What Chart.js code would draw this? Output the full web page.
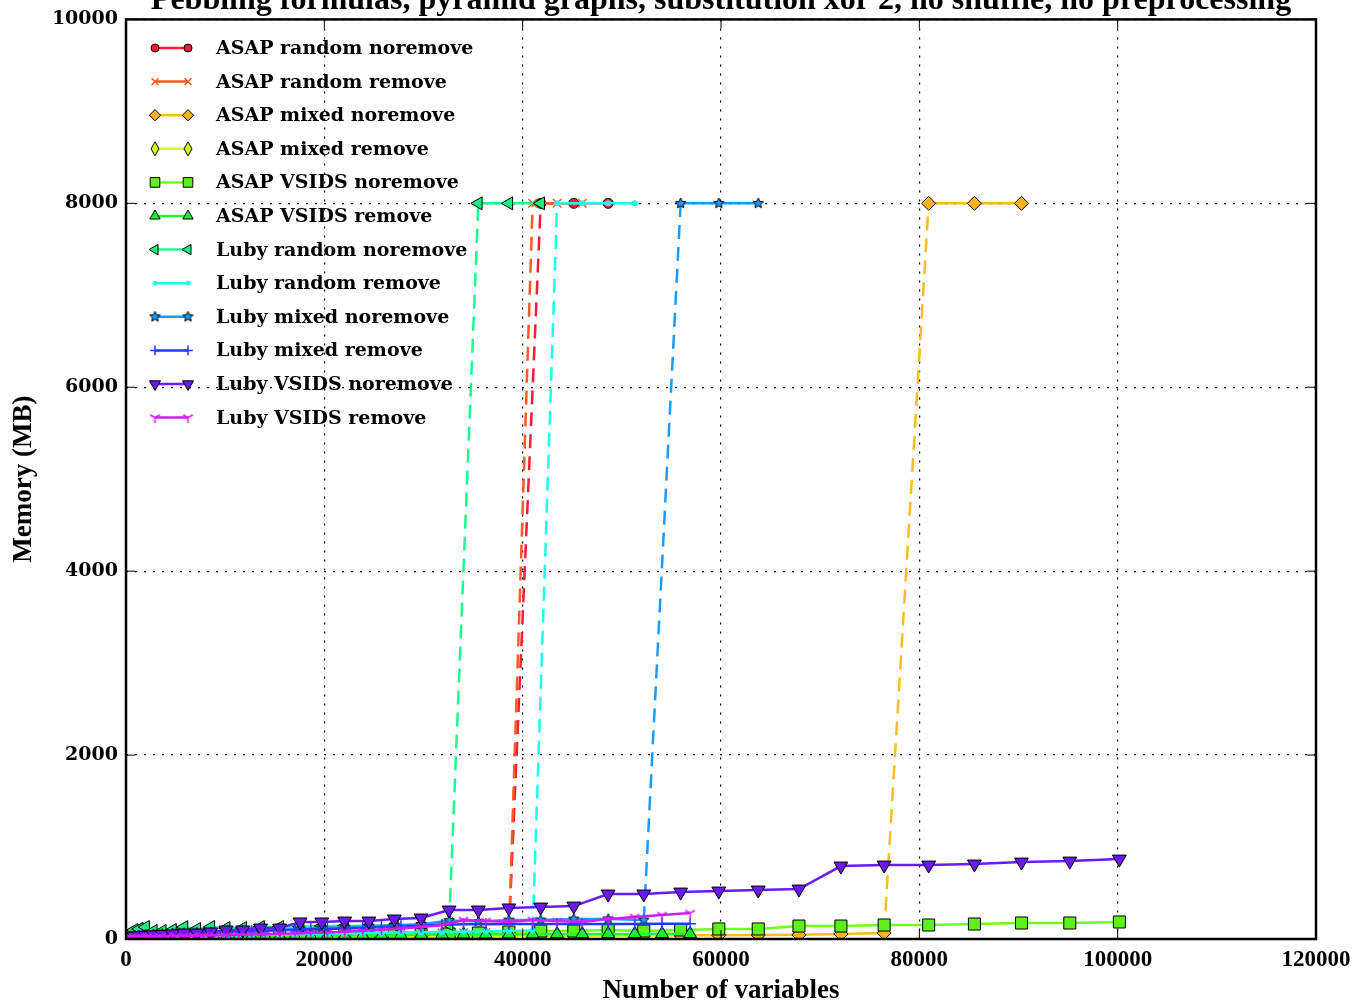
<!DOCTYPE html>
<html>
<head>
<meta charset="utf-8">
<title>Pebbling formulas memory</title>
<script src="https://cdn.jsdelivr.net/npm/chart.js@4.4.1/dist/chart.umd.min.js"></script>
<style>
  html, body { margin: 0; padding: 0; background: #fff; }
  canvas { display: block; }
</style>
</head>
<body>
<canvas id="memChart" width="1361" height="1003"></canvas>
<script>
/* ---------- data ---------- */
const chartTitle = "Pebbling formulas, pyramid graphs, substitution xor 2, no shuffle, no preprocessing";
const xAxisTitle = "Number of variables";
const yAxisTitle = "Memory (MB)";
const xTickValues = [0, 20000, 40000, 60000, 80000, 100000, 120000];
const yTickValues = [0, 2000, 4000, 6000, 8000, 10000];

// instance sizes (number of variables) for the "noremove" and "remove" runs
const xVarsNoremove = [20, 156, 420, 812, 1332, 1980, 2756, 3660, 4692, 5852,
  7140, 8556, 10100, 11772, 13572, 15500, 17556, 19740, 22052, 24492,
  27060, 29756, 32580, 35532, 38612, 41820, 45156, 48620, 52212, 55932,
  59780, 63756, 67860, 72092, 76452, 80940, 85556, 90300, 95172, 100172];
const xVarsRemove = [20, 110, 272, 506, 812, 1190, 1640, 2162, 2756, 3422,
  4160, 4970, 5852, 6806, 7832, 8930, 10100, 11342, 12656, 14042,
  15500, 17030, 18632, 20306, 22052, 23870, 25760, 27722, 29756, 31862,
  34040, 36290, 38612, 41006, 43472, 46010, 48620, 51302, 54056, 56882];

// memory in MB (8000 = ran out of memory)
const asapRandomNoremove = [10, 12, 14, 16, 18, 20, 22, 25, 28, 30,
  33, 36, 40, 43, 46, 50, 53, 56, 60, 63,
  66, 70, 72, 75, 78, 8000, 8000, 8000];
const asapRandomRemove = [8, 10, 12, 14, 16, 18, 20, 22, 24, 26,
  28, 30, 32, 34, 36, 38, 40, 42, 44, 46,
  48, 50, 52, 54, 56, 58, 60, 62, 64, 66,
  68, 70, 72, 8000, 8000, 8000];
const asapMixedNoremove = [5, 6, 7, 8, 9, 10, 11, 12, 13, 14,
  15, 16, 17, 18, 19, 20, 21, 22, 23, 24,
  25, 26, 28, 30, 32, 34, 36, 38, 40, 40,
  40, 43, 45, 54, 65, 8000, 8000, 8000];
const asapMixedRemove = [4, 5, 6, 7, 8, 9, 10, 11, 12, 13,
  14, 15, 16, 17, 18, 19, 20, 21, 22, 23,
  24, 25, 26, 27, 28, 29, 30, 31, 32, 33,
  34, 35, 36, 37, 38, 39, 40, 42, 44, 45];
const asapVsidsNoremove = [5, 6, 7, 8, 9, 10, 12, 14, 16, 18,
  20, 22, 24, 26, 28, 30, 33, 36, 40, 43,
  46, 50, 55, 65, 76, 87, 87, 98, 87, 98,
  109, 109, 141, 141, 152, 152, 163, 174, 174, 185];
const asapVsidsRemove = [5, 6, 7, 8, 9, 10, 11, 12, 13, 14,
  15, 16, 17, 18, 19, 20, 22, 24, 26, 28,
  30, 32, 34, 36, 38, 40, 42, 44, 46, 48,
  50, 50, 52, 52, 54, 54, 55, 55, 56, 56];
const lubyRandomNoremove = [30, 50, 70, 98, 110, 130, 87, 87, 98, 130,
  109, 130, 119, 119, 130, 130, 135, 141, 141, 145,
  150, 152, 160, 8000, 8000, 8000];
const lubyRandomRemove = [10, 12, 14, 16, 18, 20, 22, 24, 26, 28,
  30, 32, 34, 36, 38, 40, 42, 44, 46, 48,
  50, 52, 55, 58, 61, 64, 67, 70, 73, 76,
  80, 84, 88, 92, 8000, 8000, 8000, 8000];
const lubyMixedNoremove = [20, 25, 30, 35, 40, 45, 50, 55, 60, 65,
  70, 75, 80, 85, 90, 100, 110, 120, 130, 140,
  150, 160, 200, 190, 206, 206, 217, 217, 206, 8000, 8000, 8000];
const lubyMixedRemove = [15, 18, 21, 24, 27, 30, 33, 36, 39, 42,
  45, 50, 55, 60, 65, 70, 75, 80, 85, 90,
  95, 100, 105, 110, 115, 120, 130, 140, 145, 155,
  160, 160, 163, 163, 163, 163, 163, 163, 165, 165];
const lubyVsidsNoremove = [15, 20, 25, 30, 35, 40, 45, 50, 55, 65,
  65, 76, 98, 98, 119, 119, 185, 185, 195, 195,
  217, 228, 315, 315, 337, 347, 358, 489, 489, 510,
  521, 532, 543, 793, 804, 804, 815, 836, 847, 869];
const lubyVsidsRemove = [10, 12, 14, 16, 18, 20, 22, 24, 26, 28,
  30, 32, 34, 36, 38, 40, 42, 45, 48, 52,
  56, 60, 66, 72, 80, 90, 100, 115, 130, 150,
  206, 195, 185, 206, 195, 185, 217, 239, 260, 282];

const memLimit = 8000;

/* ---------- custom markers ---------- */
function starMarker(size, fill) {
    const c = document.createElement("canvas");
    c.width = c.height = size;
    const g = c.getContext("2d");
    const r = size / 2 - 1, ri = r * 0.45;
    g.beginPath();
    for (let k = 0; k < 10; k++) {
        const a = -Math.PI / 2 + k * Math.PI / 5;
        const rr = k % 2 ? ri : r;
        g.lineTo(size / 2 + rr * Math.cos(a), size / 2 + rr * Math.sin(a));
    }
    g.closePath();
    g.fillStyle = fill;
    g.fill();
    g.strokeStyle = "#000";
    g.lineWidth = 1;
    g.stroke();
    return c;
}

function triDownMarker(size, color) {
    const c = document.createElement("canvas");
    c.width = c.height = size;
    const g = c.getContext("2d");
    const m = size / 2, r = size / 2 - 1;
    g.strokeStyle = color;
    g.lineWidth = 1.5;
    g.beginPath();
    g.moveTo(m, m); g.lineTo(m, m + r);
    g.moveTo(m, m); g.lineTo(m - r * 0.87, m - r * 0.5);
    g.moveTo(m, m); g.lineTo(m + r * 0.87, m - r * 0.5);
    g.stroke();
    return c;
}

function thinDiamondMarker(w, h, fill) {
    const c = document.createElement("canvas");
    c.width = w; c.height = h;
    const g = c.getContext("2d");
    g.beginPath();
    g.moveTo(w / 2, 1); g.lineTo(w - 1, h / 2); g.lineTo(w / 2, h - 1); g.lineTo(1, h / 2);
    g.closePath();
    g.fillStyle = fill;
    g.fill();
    g.strokeStyle = "#000";
    g.lineWidth = 1;
    g.stroke();
    return c;
}

/* ---------- datasets ---------- */
function series(label, xs, ys, color, m) {
    return {
        label: label,
        data: ys.map((v, i) => ({ x: xs[i], y: v })),
        borderColor: color,
        backgroundColor: m.fill || color,
        borderWidth: 2.5,
        pointStyle: m.shape,
        pointRadius: m.r,
        pointRotation: m.rot || 0,
        pointBackgroundColor: m.fill || color,
        pointBorderColor: m.edge || color,
        pointBorderWidth: m.bw === undefined ? 1 : m.bw,
        tension: 0,
        fill: false,
        segment: {
            // jump to the memory limit is dashed
            borderDash: c => ((c.p0.parsed.y >= memLimit) !== (c.p1.parsed.y >= memLimit)) ? [14, 8] : undefined
        }
    };
}

const datasets = [
    series("ASAP random noremove", xVarsNoremove, asapRandomNoremove, "#ff1a3a", { shape: "circle", r: 5, fill: "#ff1a3a", edge: "#000" }),
    series("ASAP random remove", xVarsRemove, asapRandomRemove, "#ff5a1f", { shape: "crossRot", r: 6, bw: 1.5 }),
    series("ASAP mixed noremove", xVarsNoremove, asapMixedNoremove, "#ffbb1f", { shape: "rectRot", r: 7, fill: "#ffb41f", edge: "#000" }),
    series("ASAP mixed remove", xVarsRemove, asapMixedRemove, "#d4ff1a", { shape: thinDiamondMarker(10, 16, "#ccff1a"), r: 7 }),
    series("ASAP VSIDS noremove", xVarsNoremove, asapVsidsNoremove, "#70ff1a", { shape: "rect", r: 8.5, fill: "#5ef01a", edge: "#000" }),
    series("ASAP VSIDS remove", xVarsRemove, asapVsidsRemove, "#1aff2e", { shape: "triangle", r: 7.5, fill: "#1aee2e", edge: "#000" }),
    series("Luby random noremove", xVarsNoremove, lubyRandomNoremove, "#1aff8c", { shape: "triangle", rot: -90, r: 7.5, fill: "#1aee80", edge: "#000" }),
    series("Luby random remove", xVarsRemove, lubyRandomRemove, "#1affee", { shape: "circle", r: 3, bw: 0 }),
    series("Luby mixed noremove", xVarsNoremove, lubyMixedNoremove, "#1a9cff", { shape: starMarker(13, "#1a9cff"), r: 7 }),
    series("Luby mixed remove", xVarsRemove, lubyMixedRemove, "#1a3dff", { shape: "cross", r: 6, bw: 1.5 }),
    series("Luby VSIDS noremove", xVarsNoremove, lubyVsidsNoremove, "#6a1aff", { shape: "triangle", rot: 180, r: 8, fill: "#6a1aee", edge: "#000" }),
    series("Luby VSIDS remove", xVarsRemove, lubyVsidsRemove, "#d61aff", { shape: triDownMarker(13, "#d61aff"), r: 7 })
];
// later series are drawn on top, like the original plot
datasets.forEach((ds, i) => { ds.order = datasets.length - i; });

/* ---------- decorations: frame, inner ticks, legend, titles ---------- */
const decorations = {
    id: "decorations",
    beforeDraw(chart) {
        const ctx = chart.ctx;
        ctx.save();
        ctx.fillStyle = "#fff";
        ctx.fillRect(0, 0, chart.width, chart.height);
        ctx.restore();
    },
    afterDatasetsDraw(chart) {
        const ctx = chart.ctx;
        const a = chart.chartArea;
        const xs = chart.scales.x, ys = chart.scales.y;
        ctx.save();

        // inner tick marks on all four sides
        ctx.strokeStyle = "#000";
        ctx.lineWidth = 1;
        ctx.beginPath();
        xTickValues.forEach(v => {
            const p = xs.getPixelForValue(v);
            ctx.moveTo(p, a.bottom); ctx.lineTo(p, a.bottom - 9);
            ctx.moveTo(p, a.top); ctx.lineTo(p, a.top + 9);
        });
        yTickValues.forEach(v => {
            const p = ys.getPixelForValue(v);
            ctx.moveTo(a.left, p); ctx.lineTo(a.left + 9, p);
            ctx.moveTo(a.right, p); ctx.lineTo(a.right - 9, p);
        });
        ctx.stroke();

        // frame
        ctx.lineWidth = 2.5;
        ctx.strokeRect(a.left, a.top, a.right - a.left, a.bottom - a.top);

        // legend
        const h = Chart.helpers;
        chart.data.datasets.forEach((ds, i) => {
            const yy = 48 + i * 33.6;
            ctx.setLineDash([]);
            ctx.strokeStyle = ds.borderColor;
            ctx.lineWidth = ds.borderWidth;
            ctx.beginPath();
            ctx.moveTo(155, yy); ctx.lineTo(188, yy);
            ctx.stroke();
            [155, 188].forEach(px => {
                ctx.fillStyle = ds.pointBackgroundColor;
                ctx.strokeStyle = ds.pointBorderColor;
                ctx.lineWidth = ds.pointBorderWidth;
                h.drawPoint(ctx, {
                    pointStyle: ds.pointStyle,
                    rotation: ds.pointRotation,
                    radius: typeof ds.pointStyle === "string" ? ds.pointRadius * 0.8 : ds.pointRadius,
                    borderWidth: ds.pointBorderWidth
                }, px, yy);
            });
            ctx.fillStyle = "#000";
            ctx.font = "bold 19px 'DejaVu Serif'";
            ctx.textAlign = "left";
            ctx.textBaseline = "middle";
            ctx.fillText(ds.label, 216, yy + 1);
        });

        // title (cut by the top edge, as in the original)
        ctx.fillStyle = "#000";
        ctx.textAlign = "center";
        ctx.textBaseline = "alphabetic";
        ctx.font = "bold 32px 'Liberation Serif'";
        ctx.fillText(chartTitle, (a.left + a.right) / 2, 9);

        // axis titles
        ctx.font = "bold 27px 'Liberation Serif'";
        ctx.textBaseline = "middle";
        ctx.fillText(xAxisTitle, (a.left + a.right) / 2, 991);
        ctx.translate(24, (a.top + a.bottom) / 2);
        ctx.rotate(-Math.PI / 2);
        ctx.font = "bold 27px 'Liberation Serif'";
        ctx.fillText(yAxisTitle, 0, 0);

        ctx.restore();
    }
};

new Chart(document.getElementById("memChart"), {
    type: "line",
    data: { datasets: datasets },
    plugins: [decorations],
    options: {
        responsive: false,
        animation: false,
        devicePixelRatio: 1,
        events: [],
        layout: { padding: { top: 18, right: 45, left: 0, bottom: 0 } },
        plugins: {
            legend: { display: false },
            tooltip: { enabled: false }
        },
        scales: {
            x: {
                type: "linear",
                min: 0,
                max: 120000,
                afterBuildTicks: s => { s.ticks = xTickValues.map(v => ({ value: v })); },
                afterFit: s => { s.height = 64; },
                border: { display: false, dash: [2, 7] },
                grid: { color: "#000", lineWidth: 1.2, drawTicks: false },
                ticks: {
                    padding: 7,
                    color: "#000",
                    maxRotation: 0,
                    font: { family: "Liberation Serif", size: 23, weight: "bold" },
                    callback: v => String(v)
                }
            },
            y: {
                type: "linear",
                min: 0,
                max: 10000,
                afterBuildTicks: s => { s.ticks = yTickValues.map(v => ({ value: v })); },
                afterFit: s => { s.width = 126; },
                border: { display: false, dash: [2, 7] },
                grid: { color: "#000", lineWidth: 1.2, drawTicks: false },
                ticks: {
                    padding: 8,
                    color: "#000",
                    font: { family: "DejaVu Serif", size: 19, weight: "bold" },
                    callback: v => String(v)
                }
            }
        }
    }
});
</script>
</body>
</html>
